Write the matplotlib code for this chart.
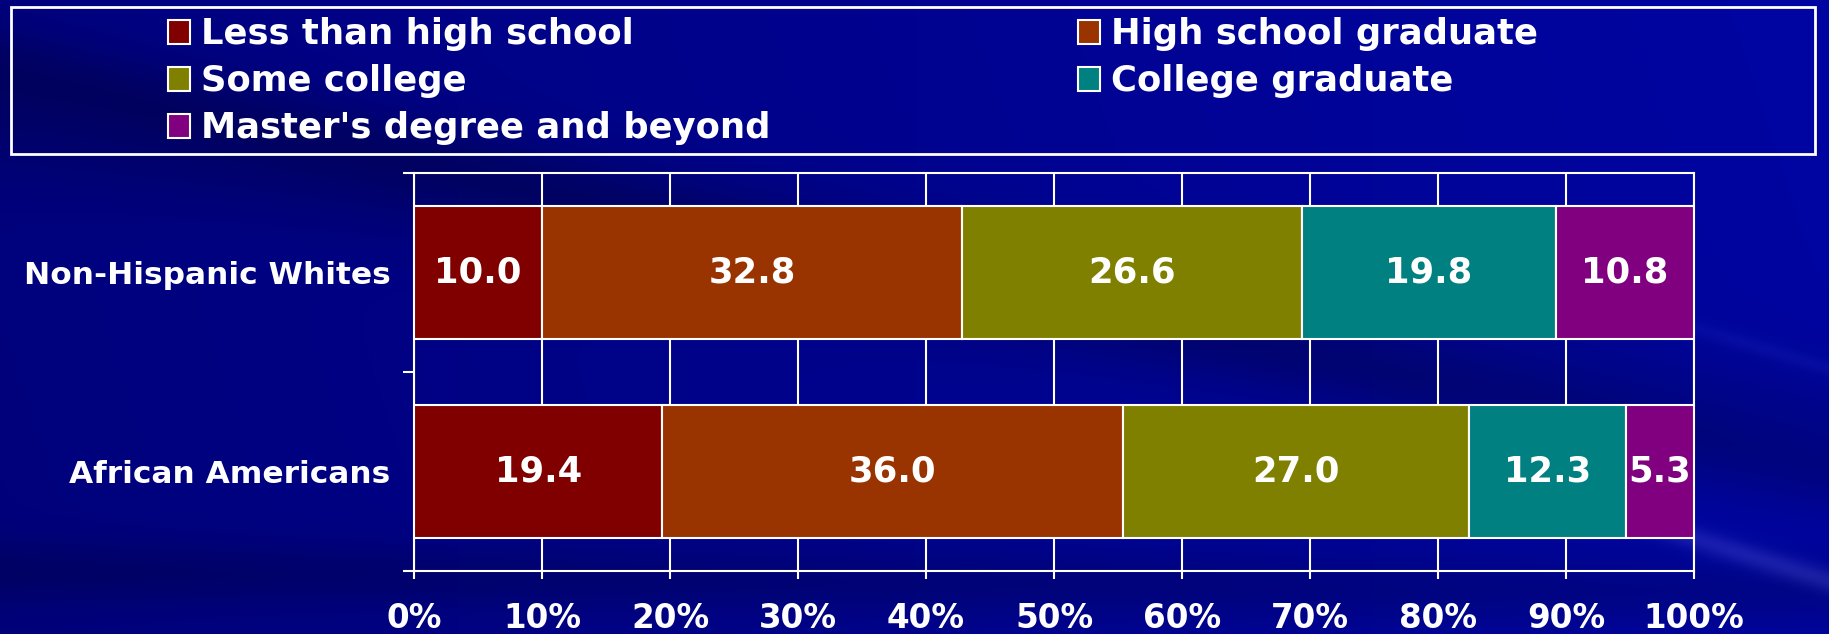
import numpy as np
import matplotlib
matplotlib.use("Agg")
import matplotlib.pyplot as plt
from matplotlib.patches import Rectangle, Patch

# ---- data ----
categories = ["Non-Hispanic Whites", "African Americans"]
series_names = ["Less than high school", "High school graduate", "Some college",
                "College graduate", "Master's degree and beyond"]
less_than_hs = [10.0, 19.4]
hs_graduate = [32.8, 36.0]
some_college = [26.6, 27.0]
college_grad = [19.8, 12.3]
masters_plus = [10.8, 5.3]
series_values = [less_than_hs, hs_graduate, some_college, college_grad, masters_plus]
x_ticks = [0, 10, 20, 30, 40, 50, 60, 70, 80, 90, 100]
x_tick_labels = ["0%", "10%", "20%", "30%", "40%", "50%", "60%", "70%", "80%", "90%", "100%"]

colors = ["#800000", "#993300", "#808000", "#008080", "#800080"]

W, H = 1829, 634
DPI = 100
plt.rcParams['font.family'] = ['DejaVu Sans']
fig = plt.figure(figsize=(W / DPI, H / DPI), dpi=DPI)

# ---- background ----
bg = fig.add_axes([0, 0, 1, 1], zorder=-10)
h, w = 317, 915
yy, xx = np.mgrid[0:h, 0:w]
xn = xx / w
yn = yy / h
blue = 122 + 36 * xn + 4 * (1 - yn)
green = 1 + 4 * xn
red = np.zeros_like(blue)


def band(x0, y0, x1, y1, width):
    ax_ = (x1 - x0) * 2.88
    ay_ = (y1 - y0)
    px = (xn - x0) * 2.88
    py = (yn - y0)
    L = np.hypot(ax_, ay_)
    d = np.abs(px * ay_ - py * ax_) / L
    return np.exp(-(d / width) ** 2)


# darker diagonal streaks
blue -= 20 * band(0.15, 0.25, 0.75, 0.55, 0.10)
blue -= 22 * band(0.0, 0.90, 0.6, 0.92, 0.05)
blue -= 18 * band(0.80, 0.62, 1.0, 0.75, 0.06)
# lighter streak at lower right, fading to the left
lb = band(0.928, 0.85, 1.0, 0.915, 0.018) * np.clip((xn - 0.7) / 0.25, 0, 1)
blue += 22 * lb
red += 26 * lb
green += 26 * lb
lb2 = band(0.93, 0.52, 1.0, 0.58, 0.012) * np.clip((xn - 0.85) / 0.1, 0, 1)
blue += 10 * lb2
red += 8 * lb2
green += 8 * lb2
img = np.dstack([red, green, blue]).clip(0, 255) / 255.0
bg.imshow(img, aspect='auto', extent=[0, 1, 0, 1], interpolation='bilinear')
bg.set_axis_off()

# ---- main axes ----
left, right = 414 / W, 1694 / W
top, bottom = 1 - 173 / H, 1 - 571 / H
ax = fig.add_axes([left, bottom, right - left, top - bottom])
ax.patch.set_alpha(0)

ypos = np.arange(len(categories))
cum = np.zeros(len(categories))
containers = []
for name, vals, col in zip(series_names, series_values, colors):
    c = ax.barh(ypos, vals, left=cum, height=0.67, color=col, edgecolor='white',
                linewidth=1.5, label=name, zorder=3)
    containers.append(c)
    cum += np.array(vals)

for c in containers:
    ax.bar_label(c, labels=[f"{v:.1f}" for v in c.datavalues], label_type='center',
                 color='white', fontsize=25.5, fontweight='bold', zorder=5)

ax.set_xlim(0, 100)
ax.set_ylim(-0.5, len(categories) - 0.5)
ax.invert_yaxis()

ax.set_xticks(x_ticks)
ax.set_xticklabels(x_tick_labels, fontsize=23.5, fontweight='bold', color='white')
ax.tick_params(axis='x', direction='out', length=6, width=1.5, color='white', pad=16)

ax.set_yticks(ypos)
ax.set_yticklabels(categories, fontsize=22.5, fontweight='bold', color='white')
ax.tick_params(axis='y', which='major', length=0, pad=17)
ax.set_yticks(np.arange(-0.5, len(categories), 1.0), minor=True)
ax.tick_params(axis='y', which='minor', direction='out', length=8, width=1.5, color='white')

ax.grid(axis='x', color='white', linewidth=1.5, zorder=1)
ax.set_axisbelow(True)
for s in ax.spines.values():
    s.set_color('white')
    s.set_linewidth(1.5)

# ---- legend ----
fig.patches.append(Rectangle((10.5 / W, 1 - 154 / H), (1815 - 10.5) / W, (154 - 7) / H,
                             transform=fig.transFigure, fill=False, edgecolor='white',
                             linewidth=2.0, zorder=2))

handles = {name: Patch(facecolor=col, edgecolor='white', linewidth=1.5)
           for name, col in zip(series_names, colors)}
col1 = [series_names[0], series_names[2], series_names[4]]
col2 = [series_names[1], series_names[3]]
leg_kw = dict(frameon=False, borderpad=0, borderaxespad=0, handlelength=0.62,
              handleheight=0.66, handletextpad=0.3, labelspacing=0.37,
              loc='upper left', labelcolor='white',
              prop={'size': 25.5, 'weight': 'bold'})
fig.legend([handles[n] for n in col1], col1, bbox_to_anchor=(168 / W, 1 - 17 / H), **leg_kw)
fig.legend([handles[n] for n in col2], col2, bbox_to_anchor=(1078 / W, 1 - 17 / H), **leg_kw)

fig.savefig("out.png", dpi=DPI)
